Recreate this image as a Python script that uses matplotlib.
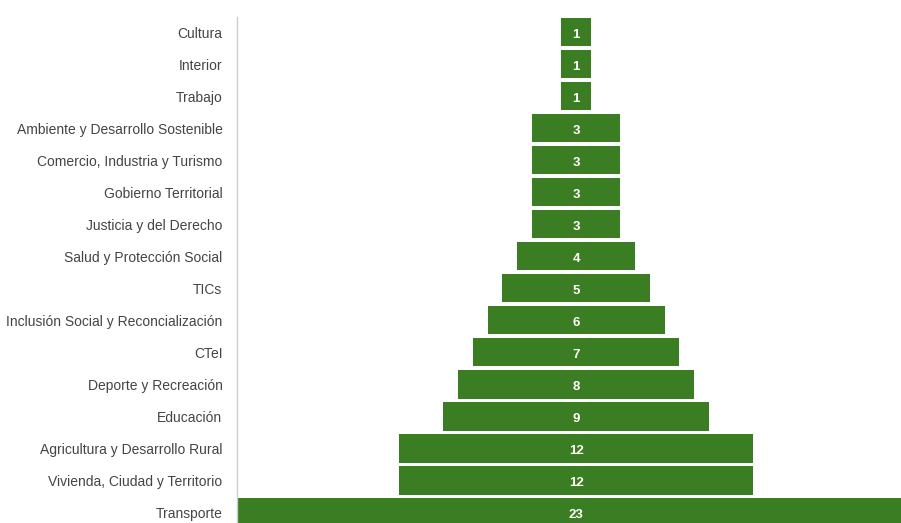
import matplotlib.pyplot as plt

categories = [
    "Cultura", "Interior", "Trabajo", "Ambiente y Desarrollo Sostenible",
    "Comercio, Industria y Turismo", "Gobierno Territorial", "Justicia y del Derecho",
    "Salud y Protección Social", "TICs", "Inclusión Social y Reconcialización",
    "CTeI", "Deporte y Recreación", "Educación", "Agricultura y Desarrollo Rural",
    "Vivienda, Ciudad y Territorio", "Transporte",
]
values = [1, 1, 1, 3, 3, 3, 3, 4, 5, 6, 7, 8, 9, 12, 12, 23]

plt.rcParams["font.family"] = ["Liberation Sans", "DejaVu Sans"]

fig = plt.figure(figsize=(9.01, 5.23), dpi=100)
ax = fig.add_axes([237 / 901, 0, 1 - 237 / 901, (523 - 17) / 523])

ypos = list(range(len(categories)))
lefts = [-v / 2 for v in values]
ax.barh(ypos, values, left=lefts, height=0.9, color="#3b7d23")

for y, v in zip(ypos, values):
    ax.text(0, y + 0.03, str(v), ha="center", va="center_baseline", color="white",
            fontsize=9.5, fontweight="bold")

ax.set_xlim(-11.5, 11.02)
ax.set_ylim(15.34, -0.47)
ax.set_yticks(ypos)
ax.set_yticklabels(categories, fontsize=10, color="#444444")
ax.tick_params(axis="y", length=0, pad=10.5)
ax.set_xticks([])
for s in ["top", "right", "bottom"]:
    ax.spines[s].set_visible(False)
ax.spines["left"].set_color("#cccccc")
ax.spines["left"].set_linewidth(1)

fig.savefig("out.png", dpi=100)
